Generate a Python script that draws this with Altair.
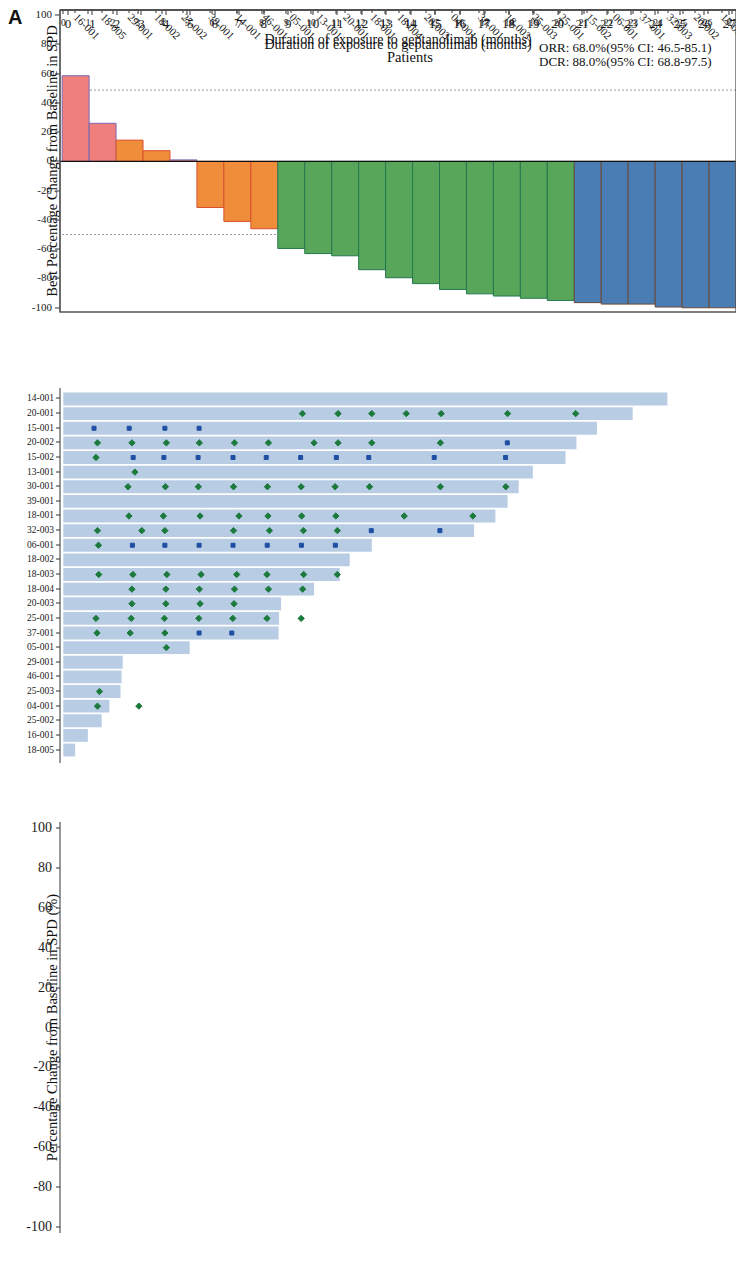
import altair as alt
import pandas as pd

SERIF = "Liberation Serif"
SANS = "Liberation Sans"

# ---------------- Panel A data ----------------
patients_a = ["16-001", "18-005", "29-001", "18-002", "25-002", "39-001", "14-001", "46-001",
              "05-001", "13-001", "20-001", "18-001", "18-004", "20-003", "04-001", "30-001",
              "18-003", "25-003", "25-001", "15-002", "06-001", "37-001", "32-003", "20-002", "15-001"]
best_change = [58.5, 26.0, 14.5, 7.3, 1.0, -31.5, -41.0, -46.0,
               -59.5, -63.0, -64.5, -74.0, -79.5, -83.5, -87.5, -90.5,
               -92.0, -93.5, -95.0, -96.5, -97.5, -97.5, -99.5, -100.0, -100.0]
best_resp = ["PD", "PD", "SD", "SD", "PD", "SD", "SD", "SD",
             "PR", "PR", "PR", "PR", "PR", "PR", "PR", "PR", "PR", "PR", "PR",
             "CR", "CR", "CR", "CR", "CR", "CR"]
ref_lines_a = [48.7, -50.0]
ann_a = ["ORR: 68.0%(95% CI: 46.5-85.1)", "DCR: 88.0%(95% CI: 68.8-97.5)"]
panel_labels = ["A", "B", "C"]

resp_domain = ["CR", "PR", "SD", "PD"]
fill_a = ["#4a7db4", "#58a65a", "#ef8d3b", "#ef7f7d"]
stroke_a = ["#6a4a3a", "#23784e", "#d9502c", "#7a68b0"]

# ---------------- Panel B data ----------------
rows_b = ["14-001", "20-001", "15-001", "20-002", "15-002", "13-001", "30-001", "39-001", "18-001",
          "32-003", "06-001", "18-002", "18-003", "18-004", "20-003", "25-001", "37-001", "05-001",
          "29-001", "46-001", "25-003", "04-001", "25-002", "16-001", "18-005"]
duration_b = [24.38, 22.98, 21.54, 20.71, 20.27, 18.95, 18.38, 17.93, 17.44,
              16.58, 12.45, 11.56, 11.16, 10.12, 8.79, 8.71, 8.69, 5.10,
              2.40, 2.35, 2.31, 1.86, 1.55, 0.99, 0.48]
ongoing_b = ["14-001", "20-001", "15-001", "20-002", "30-001", "39-001", "18-001", "32-003",
             "06-001", "18-003", "18-004", "20-003", "37-001", "46-001", "25-003"]
cr_b = {
    "15-001": [1.24, 2.66, 4.10, 5.48],
    "20-002": [17.92],
    "15-002": [2.82, 4.06, 5.44, 6.85, 8.19, 9.58, 11.02, 12.33, 14.97, 17.85],
    "32-003": [12.43, 15.20],
    "06-001": [2.79, 4.10, 5.48, 6.85, 8.23, 9.61, 10.98],
    "37-001": [5.48, 6.80],
}
pr_b = {
    "20-001": [9.65, 11.09, 12.45, 13.84, 15.25, 17.93, 20.68],
    "20-002": [1.38, 2.77, 4.16, 5.49, 6.91, 8.28, 10.12, 11.09, 12.45, 15.22],
    "15-002": [1.32],
    "13-001": [2.89],
    "30-001": [2.61, 4.12, 5.45, 6.87, 8.24, 9.60, 10.97, 12.36, 15.22, 17.86],
    "18-001": [2.65, 4.04, 5.52, 7.09, 8.26, 9.62, 11.00, 13.76, 16.53],
    "32-003": [1.38, 3.17, 4.10, 6.87, 8.32, 9.69, 11.06],
    "06-001": [1.42],
    "18-003": [1.43, 2.81, 4.18, 5.56, 7.00, 8.22, 9.70, 11.06],
    "18-004": [2.77, 4.14, 5.49, 6.91, 8.28, 9.66],
    "20-003": [2.77, 4.14, 5.52, 6.89],
    "25-001": [1.32, 2.74, 4.08, 5.47, 6.84, 8.22, 9.60],
    "37-001": [1.36, 2.70, 4.10],
    "05-001": [4.16],
    "25-003": [1.46],
    "04-001": [1.38, 3.05],
}
sd_b = {
    "14-001": [1.38, 2.77, 4.18, 5.65, 7.03, 8.28, 9.55, 11.04, 12.58, 13.76, 15.14, 16.55, 18.09, 19.31, 22.03],
    "20-001": [1.42, 2.81, 4.14, 5.52, 6.89, 8.28],
    "13-001": [1.48],
    "30-001": [1.20],
    "39-001": [1.38, 2.81, 4.14, 5.52, 6.99, 8.28, 9.69, 11.04, 12.42, 13.80, 16.55],
    "18-001": [1.28],
    "18-002": [1.36, 2.79, 4.10, 5.55, 6.87, 8.31],
    "18-004": [1.32],
    "20-003": [1.38],
    "05-001": [1.42, 2.99],
    "29-001": [1.42, 2.77],
    "46-001": [1.23],
}
pd_b = {"15-001": [6.84], "13-001": [4.18], "18-002": [9.69], "05-001": [5.39],
        "25-002": [1.46], "16-001": [1.22], "18-005": [0.62]}
death_b = {"13-001": [22.43], "29-001": [6.81], "25-002": [11.12], "16-001": [1.22], "18-005": [0.75]}
ann_b = ["The median duration of exposure to geptanolimab was 11.14",
         "(range, 0.89 to 24.38) months."]

type_domain = ["CR", "PR", "SD", "PD", "Death", "Treatment onging"]
X_PATH = "M-1,-1L1,1M-1,1L1,-1"
GT_PATH = "M-0.7,-1L0.8,0L-0.7,1"
shape_b = ["square", "diamond", "star", "circle", X_PATH, GT_PATH]
fill_b = ["#1f4fa3", "#1b7a3c", "#f6a623", "#e8161c", "#ffffff00", "#ffffff00"]
stroke_b = ["#1f4fa3", "#1b7a3c", "#f6a623", "#e8161c", "#222222", "#222222"]
size_b = [16, 40, 95, 20, 28, 30]

# ---------------- Panel C data ----------------
c_time = {
    "16-001": [0, 1.17],
    "18-005": [0, 0.61],
    "25-002": [0, 1.45],
    "29-001": [0, 1.42, 2.77],
    "18-002": [0, 1.36, 2.79, 4.10, 5.48, 6.86, 8.24, 9.68],
    "46-001": [0, 1.20],
    "39-001": [0, 1.40, 2.75, 4.14, 5.50, 6.86, 8.23, 9.69, 11.04, 12.43, 13.81, 16.57],
    "14-001": [0, 1.32, 2.75, 4.18, 5.47, 6.99, 8.27, 9.53, 10.98, 12.58, 13.78, 15.13, 16.57, 17.88, 19.34, 22.05],
    "30-001": [0, 1.19, 2.56, 4.15, 5.44, 6.86, 8.20, 9.60, 10.97, 12.36, 15.11, 17.88],
    "18-001": [0, 1.37, 2.60, 4.05, 5.41, 7.04, 8.25, 9.56, 10.97, 13.70, 16.48],
    "20-001": [0, 1.42, 2.76, 4.13, 5.50, 6.90, 8.28, 9.66, 11.10, 12.46, 13.85, 15.25, 17.95, 20.71],
    "05-001": [0, 1.50, 2.98, 4.15, 5.38],
    "13-001": [0, 1.50, 2.89, 4.13],
    "18-004": [0, 1.40, 2.75, 4.15, 5.50, 6.90, 8.28, 9.66],
    "20-003": [0, 1.50, 2.78, 4.18, 5.47, 6.90],
    "18-003": [0, 1.50, 2.75, 4.13, 5.56, 7.00, 8.23, 9.66, 11.07],
    "25-001": [0, 1.40, 2.74, 4.05, 5.47, 6.90, 8.25, 9.59],
    "04-001": [0, 1.35, 3.04],
    "25-003": [0, 1.45],
    "15-002": [0, 1.37, 2.82, 4.06, 5.44, 6.85, 8.19, 9.58, 11.02, 12.33, 14.99, 17.79],
    "06-001": [0, 1.42, 2.79, 4.10, 5.48, 6.85, 8.23, 9.61, 10.98],
    "37-001": [0, 1.36, 2.70, 4.10, 5.48, 6.80],
    "32-003": [0, 1.38, 3.17, 4.10, 6.87, 8.32, 9.69, 11.06, 12.43, 15.21],
    "20-002": [0, 1.38, 2.77, 4.16, 5.49, 6.91, 8.28, 9.66, 10.15, 11.09, 12.45, 17.96],
    "15-001": [0, 1.23, 2.66, 4.10, 5.48, 6.84],
}
c_value = {
    "16-001": [0, 58.8],
    "18-005": [0, 26.0],
    "25-002": [0, 0.8],
    "29-001": [0, 19.6, 14.6],
    "18-002": [0, 7.4, 13.1, 27.3, 35.7, 36.2, 36.7, 97.5],
    "46-001": [0, -45.9],
    "39-001": [0, -3.0, -8.9, -18.6, -8.4, -21.8, -20.9, -28.3, -31.3, -20.9, -31.3, -30.5],
    "14-001": [0, -12.2, -15.1, -22.3, -24.5, -25.1, -27.6, -28.6, -29.0, -25.3, -26.5, -21.1, -22.1, -35.3, -21.4, -41.3],
    "30-001": [0, -17.4, -52.9, -58.6, -58.0, -59.5, -65.2, -75.4, -69.3, -70.7, -66.4, -90.8],
    "18-001": [0, -26.1, -55.3, -55.1, -59.0, -64.7, -67.3, -68.0, -69.3, -71.2, -74.0],
    "20-001": [0, -30.2, -42.2, -47.4, -47.2, -47.9, -37.9, -55.3, -53.6, -52.8, -54.0, -63.6, -64.6, -54.0],
    "05-001": [0, -31.8, -36.7, -59.6, -37.7],
    "13-001": [0, -34.7, -50.8, -64.8],
    "18-004": [0, -41.5, -69.7, -79.2, -75.9, -75.4, -79.1, -78.2],
    "20-003": [0, -47.2, -74.7, -80.4, -77.7, -83.1],
    "18-003": [0, -60.3, -65.7, -69.8, -80.7, -88.3, -89.4, -88.3, -92.3],
    "25-001": [0, -68.3, -72.0, -90.8, -94.5, -94.5, -94.6, -94.8],
    "04-001": [0, -80.6, -87.6],
    "25-003": [0, -93.1],
    "15-002": [0, -72.0, -89.1, -88.8, -92.0, -91.5, -95.5, -95.5, -96.5, -96.7, -96.8, -96.8],
    "06-001": [0, -78.2, -91.0, -93.1, -96.7, -92.5, -96.3, -96.7, -97.5],
    "37-001": [0, -82.7, -92.0, -95.0, -97.7, -97.5],
    "32-003": [0, -72.4, -90.0, -96.1, -96.7, -98.2, -97.5, -98.2, -99.3, -99.7],
    "20-002": [0, -83.8, -92.6, -96.0, -97.0, -97.8, -97.0, -97.0, -98.7, -97.5, -99.3, -100.0],
    "15-001": [0, -100.0, -100.0, -100.0, -100.0, -100.0],
}
ref_lines_c = [50.0, -50.0]
color_c = ["#4a7ebf", "#4caa4c", "#f08a30", "#ee7383"]

# ---------------- layout (pixel bands of the three panels) ----------------
W = 676
H = 1223
A_TOP, A_BOT = 0, 302
B_TOP, B_BOT = 378, 753
C_TOP, C_BOT = 812, 1223
frame_df = pd.DataFrame({"k": [0]})


def frame(y0, y1):
    return alt.Chart(frame_df).mark_rect(fill="transparent", stroke="#555", strokeWidth=1.3).encode(
        x=alt.value(0), x2=alt.value(W), y=alt.value(y0), y2=alt.value(y1))


def label_text(txt, x, y, size=13, font=SERIF, weight="normal"):
    return alt.Chart(pd.DataFrame({"txt": [txt]})).mark_text(
        font=font, fontSize=size, fontWeight=weight, align="left",
        baseline="middle" if font == SERIF else "top", color="#111").encode(
        text="txt:N", x=alt.value(x), y=alt.value(y))


# ================= Panel A =================
dfA = pd.DataFrame({"patient": patients_a, "change": best_change, "response": best_resp})
yA = alt.Y("change:Q", scale=alt.Scale(domain=[-102.9, 103.4], range=[A_BOT, A_TOP], nice=False, zero=False),
           axis=alt.Axis(orient="left", values=list(range(-100, 101, 20)), labelExpr="datum.value",
                         title="Best Percentage Change from Baseline in SPD",
                         titleFontSize=14.5, labelFontSize=11, tickSize=5, labelPadding=3, titlePadding=9))
legA = alt.Legend(title=None, orient="none", legendX=535, legendY=5, direction="horizontal",
                  strokeColor="#444", fillColor="white", padding=3, symbolType="square", symbolSize=70,
                  labelFontSize=11, columnPadding=9)
bars_a = alt.Chart(dfA).mark_bar(strokeWidth=1).encode(
    x=alt.X("patient:N", sort=patients_a,
            scale=alt.Scale(paddingInner=0, paddingOuter=0.04, align=1),
            axis=alt.Axis(orient="bottom", offset=A_BOT - H, title="Patients", labelAngle=45,
                          labelAlign="left", labelBaseline="middle",
                          labelFontSize=11, titleFontSize=14.5, tickSize=3, labelPadding=3,
                          titleY=48, titleBaseline="middle", titleX=350)),
    y=yA,
    fill=alt.Fill("response:N", scale=alt.Scale(domain=resp_domain, range=fill_a), legend=legA),
    stroke=alt.Stroke("response:N", scale=alt.Scale(domain=resp_domain, range=stroke_a), legend=legA),
)
zero_a = alt.Chart(pd.DataFrame({"change": [0.0]})).mark_rule(color="#111", strokeWidth=1.2).encode(y=yA)
dots_a = alt.Chart(pd.DataFrame({"change": ref_lines_a})).mark_rule(
    color="#999", strokeWidth=1, strokeDash=[2, 2]).encode(y=yA)
panelA = alt.layer(
    dots_a, bars_a, zero_a, frame(A_TOP, A_BOT),
    label_text(ann_a[0], 479, 38), label_text(ann_a[1], 479, 52),
    label_text(panel_labels[0], -52, -2, size=20, font=SANS, weight="bold"),
)

# ================= Panel B =================
dfB = pd.DataFrame({"patient": rows_b, "start": [0.0] * len(rows_b), "dur": duration_b})
ev = []
for tname, dct in [("CR", cr_b), ("PR", pr_b), ("SD", sd_b), ("PD", pd_b), ("Death", death_b)]:
    for p, ts in dct.items():
        for t in ts:
            ev.append({"patient": p, "start": t, "kind": tname})
dur_map = dict(zip(rows_b, duration_b))
for p in ongoing_b:
    ev.append({"patient": p, "start": dur_map[p] + 0.24, "kind": "Treatment onging"})
dfE = pd.DataFrame(ev)

xB = alt.X("start:Q", scale=alt.Scale(domain=[-0.133, 27.15], nice=False, zero=False),
           axis=alt.Axis(orient="bottom", offset=B_BOT - H, values=list(range(28)),
                         title="Duration of exposure to geptanolimab (months)",
                         labelFontSize=9.5, titleFontSize=14, tickSize=4, labelPadding=4,
                         titleY=30, titleBaseline="middle"))
yB = alt.Y("patient:N", sort=rows_b,
           scale=alt.Scale(range=[B_TOP, B_BOT], paddingInner=0.12, paddingOuter=0.38, align=0.41),
           axis=alt.Axis(orient="left", title=None, labelFontSize=9.5, tickSize=4, labelPadding=2))
bars_b = alt.Chart(dfB).mark_bar(color="#b8cce4").encode(x=xB, x2="dur", y=yB)
legB = alt.Legend(title=None, orient="none", legendX=593, legendY=B_TOP + 284, strokeColor="#444",
                  fillColor="white", padding=4, labelFontSize=9, rowPadding=5, symbolSize=45)
pt_layers = []
for tname, sz in zip(type_domain, size_b):
    pt_layers.append(
        alt.Chart(dfE[dfE["kind"] == tname]).mark_point(filled=False, strokeWidth=1, opacity=1, size=sz).encode(
            x=xB, y=yB,
            shape=alt.Shape("kind:N", scale=alt.Scale(domain=type_domain, range=shape_b), legend=legB),
            fill=alt.Fill("kind:N", scale=alt.Scale(domain=type_domain, range=fill_b), legend=legB),
            stroke=alt.Stroke("kind:N", scale=alt.Scale(domain=type_domain, range=stroke_b), legend=legB),
        )
    )
panelB = alt.layer(
    bars_b, *pt_layers, frame(B_TOP, B_BOT),
    label_text(ann_b[0], 303, B_TOP + 236), label_text(ann_b[1], 303, B_TOP + 250.5),
    label_text(panel_labels[1], -52, B_TOP - 12, size=20, font=SANS, weight="bold"),
)

# ================= Panel C =================
resp_map = dict(zip(patients_a, best_resp))
crow = []
for p, ts in c_time.items():
    for t, v in zip(ts, c_value[p]):
        crow.append({"patient": p, "month": t, "pct": v, "resp": resp_map[p]})
dfC = pd.DataFrame(crow)

xC = alt.X("month:Q", scale=alt.Scale(domain=[-0.327, 27.29], nice=False, zero=False),
           axis=alt.Axis(orient="bottom", offset=0, values=list(range(28)),
                         title="Duration of exposure to geptanolimab (months)",
                         labelFontSize=13, titleFontSize=14, tickSize=5, labelPadding=3,
                         titleY=34.5, titleBaseline="middle"))
yC = alt.Y("pct:Q", scale=alt.Scale(domain=[-103.2, 103.2], range=[C_BOT, C_TOP], nice=False, zero=False),
           axis=alt.Axis(orient="left", values=list(range(-100, 101, 20)), labelExpr="datum.value",
                         title="Percentage Change from Baseline in SPD (%)",
                         labelFontSize=14, titleFontSize=14.5, tickSize=4, labelPadding=4, titlePadding=3.5))
legC = alt.Legend(title=None, orient="none", legendX=606, legendY=C_TOP + 3, symbolType="stroke",
                  symbolSize=500, symbolStrokeWidth=1.2, labelFontSize=14, rowPadding=0)
zero_c = alt.Chart(pd.DataFrame({"pct": [0.0]})).mark_rule(color="#8a8a8a", strokeWidth=1).encode(y=yC)
dots_c = alt.Chart(pd.DataFrame({"pct": ref_lines_c})).mark_rule(
    color="#aaa", strokeWidth=1, strokeDash=[2, 2]).encode(y=yC)
lines_c = alt.Chart(dfC).mark_line(strokeWidth=1, opacity=0.6).encode(
    x=xC, y=yC,
    color=alt.Color("resp:N", scale=alt.Scale(domain=resp_domain, range=color_c), legend=legC),
    detail="patient:N")
pts_c = alt.Chart(dfC[dfC["month"] > 0]).mark_circle(size=28, opacity=1).encode(
    x=xC, y=yC,
    fill=alt.Fill("resp:N", scale=alt.Scale(domain=resp_domain, range=color_c), legend=None))
origin_c = alt.Chart(dfC[dfC["month"] == 0]).mark_circle(size=28, opacity=1, color="#9a9a9a").encode(
    x=xC, y=yC)
panelC = alt.layer(
    zero_c, dots_c, lines_c, pts_c, origin_c, frame(C_TOP, C_BOT),
    label_text(panel_labels[2], -52, C_TOP - 13, size=20, font=SANS, weight="bold"),
)

# ================= Assemble (one layered view, three vertical bands) =================
chart = alt.layer(panelA, panelB, panelC).resolve_scale(
    x="independent", y="independent", fill="independent", stroke="independent",
    color="independent", shape="independent"
).properties(
    width=W, height=H,
    autosize=alt.AutoSizeParams(type="none"),
    padding={"left": 52, "top": 2, "right": 0, "bottom": 44},
).configure_view(strokeWidth=0).configure_axis(
    labelFont=SERIF, titleFont=SERIF, titleFontWeight="normal", labelColor="#1a1a1a",
    titleColor="#111", domainColor="#333", tickColor="#333", grid=False
).configure_legend(labelFont=SERIF, labelColor="#111")

chart.save("out.html", embed_options={"renderer": "svg", "actions": False})
